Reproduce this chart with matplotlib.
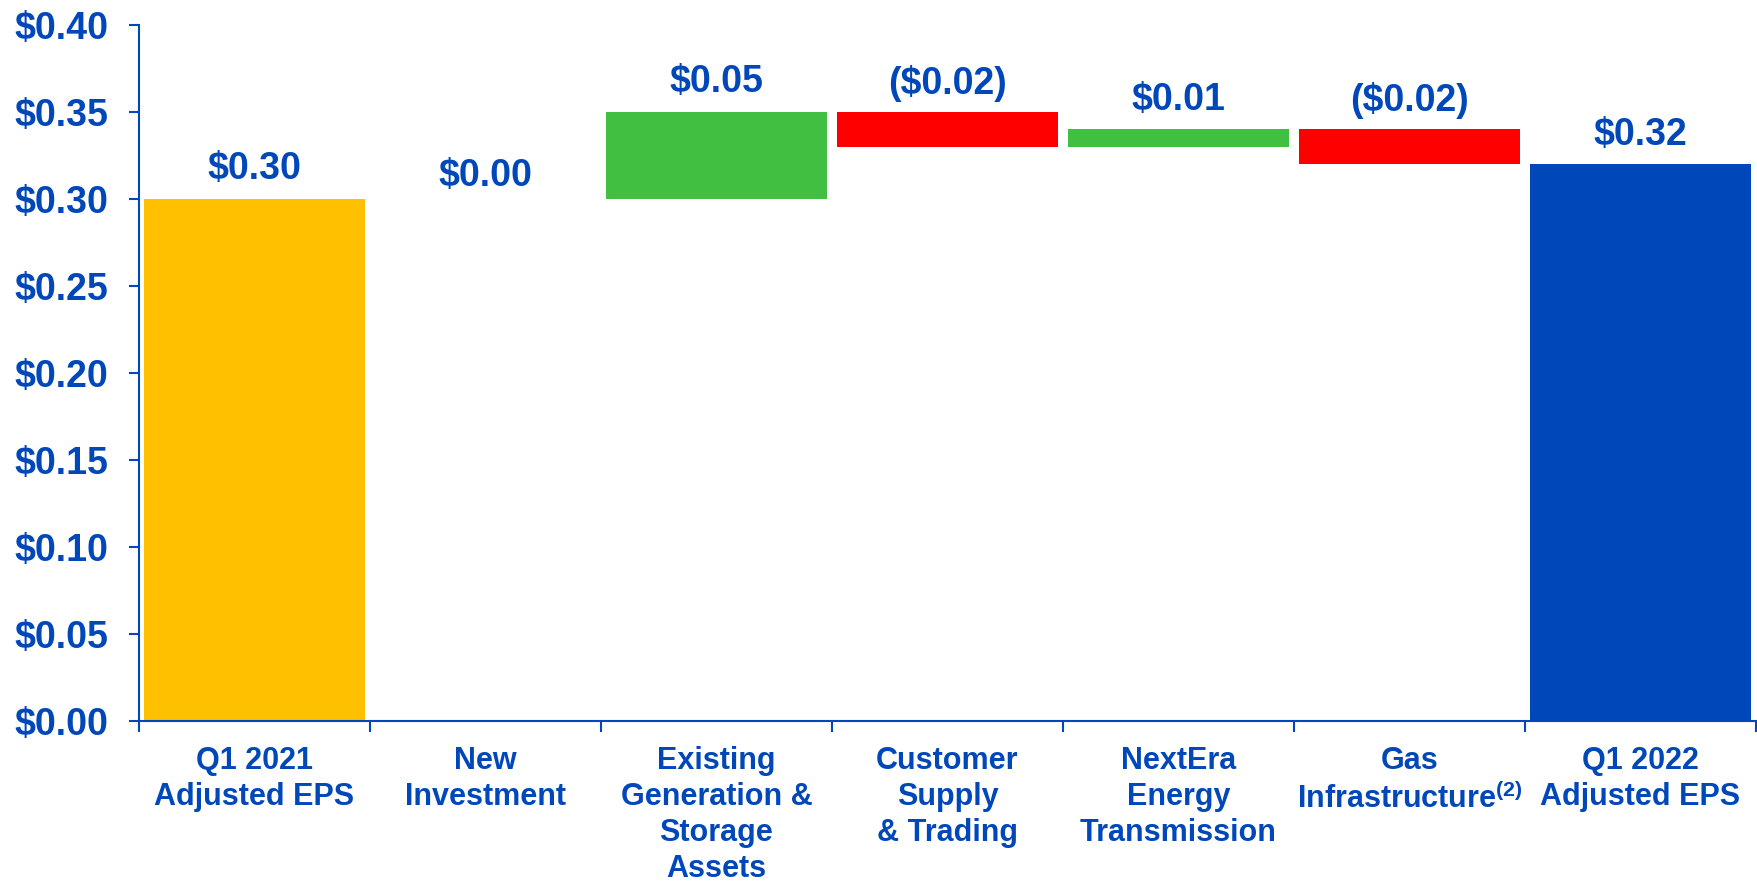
import matplotlib.pyplot as plt
from matplotlib.ticker import FuncFormatter

plt.rcParams['font.family'] = ['Liberation Sans', 'DejaVu Sans']
plt.rcParams['font.weight'] = 'bold'
plt.rcParams['mathtext.fontset'] = 'custom'
plt.rcParams['mathtext.rm'] = 'Liberation Sans:bold'
plt.rcParams['mathtext.bf'] = 'Liberation Sans:bold'

# EPS bridge data
categories = ["Q1 2021\nAdjusted EPS", "New\nInvestment", "Existing\nGeneration &\nStorage\nAssets",
              "Customer\nSupply\n& Trading", "NextEra\nEnergy\nTransmission",
              "Gas\nInfrastructure$^{(2)}$", "Q1 2022\nAdjusted EPS"]
changes = [0.30, 0.00, 0.05, -0.02, 0.01, -0.02, 0.32]
is_total = [True, False, False, False, False, False, True]
yticks = [0.00, 0.05, 0.10, 0.15, 0.20, 0.25, 0.30, 0.35, 0.40]

BLUE = "#0048BA"
YELLOW = "#FFC000"
GREEN = "#40BF40"
RED = "#FF0000"

fig = plt.figure(figsize=(17.58, 8.82), dpi=100)
ax = fig.add_axes([0.079, 0.1825, 0.9199, 0.7895])

running = 0.0
for i, (v, tot) in enumerate(zip(changes, is_total)):
    if tot:
        bottom, height = 0.0, v
        color = YELLOW if i == 0 else BLUE
        running = v
    else:
        bottom, height = running, v
        color = GREEN if v >= 0 else RED
        running += v
    ax.bar(i, height, bottom=bottom, width=0.955, color=color, zorder=2)
    top = max(bottom, bottom + height)
    label = f"${abs(v):.2f}" if v >= 0 else f"(${abs(v):.2f})"
    if v == 0:
        off = 9
    elif v < 0:
        off = 13
    else:
        off = 14
    ax.annotate(label, (i, top), xytext=(0, off), textcoords="offset points",
                ha="center", va="baseline", fontsize=27, color=BLUE, fontweight="bold")

ax.set_xlim(-0.5, len(categories) - 0.5)
ax.set_ylim(0, 0.40)
ax.set_yticks(yticks)
ax.yaxis.set_major_formatter(FuncFormatter(lambda y, _: f"${y:.2f}"))

# boundary ticks without labels, category labels on minor ticks
ax.set_xticks([i - 0.5 for i in range(len(categories) + 1)])
ax.set_xticklabels([])
ax.set_xticks(range(len(categories)), minor=True)
ax.set_xticklabels(categories, minor=True, fontsize=22, color=BLUE,
                   fontweight="bold", linespacing=1.26)
ax.tick_params(axis="x", which="minor", length=0, pad=18)
ax.tick_params(axis="x", which="major", length=8, width=1.5, color=BLUE, direction="out")
ax.tick_params(axis="y", length=7, width=1.5, color=BLUE, pad=15, labelsize=27,
               labelcolor=BLUE)

for s in ["top", "right"]:
    ax.spines[s].set_visible(False)
for s in ["left", "bottom"]:
    ax.spines[s].set_color(BLUE)
    ax.spines[s].set_linewidth(1.5)

fig.savefig("out.png", dpi=100)
